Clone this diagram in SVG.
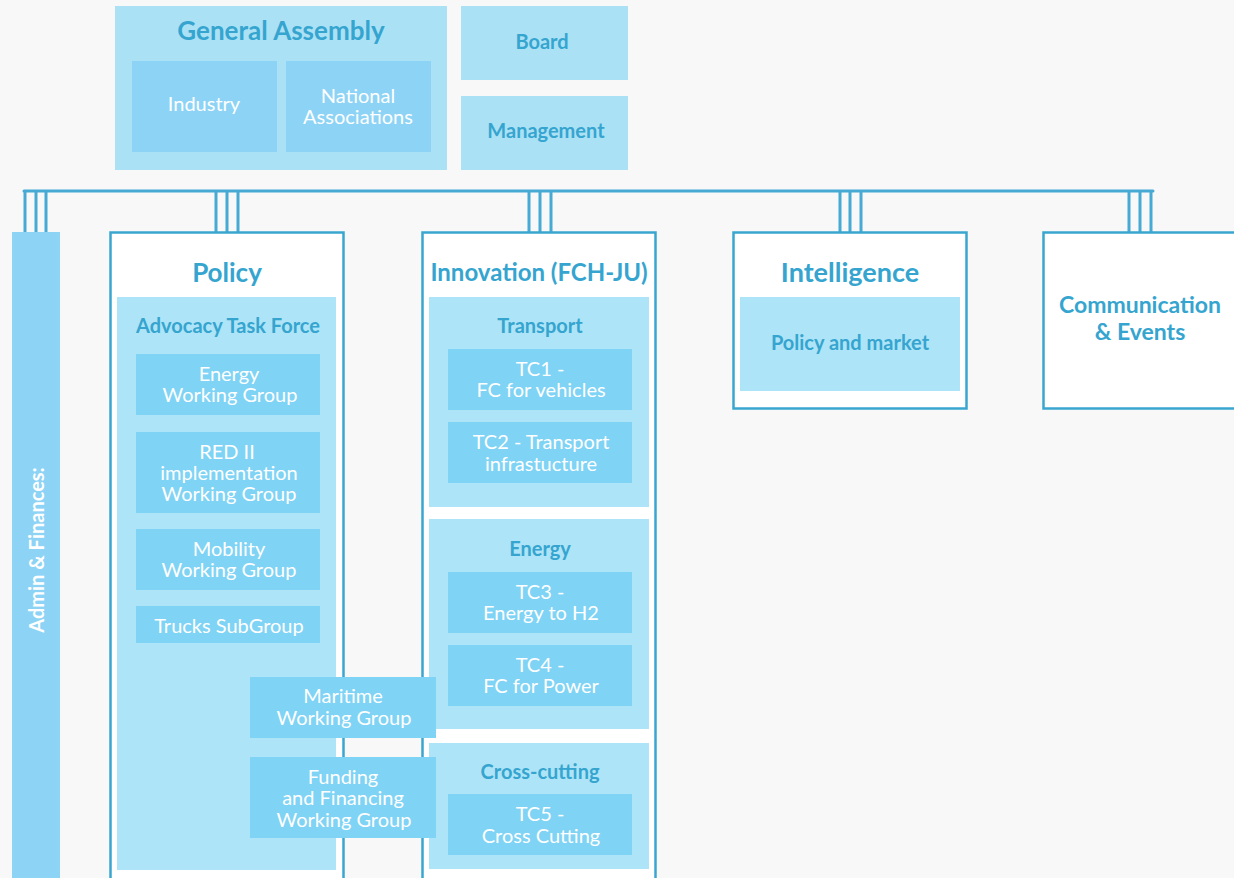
<svg xmlns="http://www.w3.org/2000/svg" width="1234" height="878" viewBox="0 0 1234 878">
<style>
.bg{fill:#f8f8f8}
.ga{fill:#abe1f5}
.sub{fill:#8dd3f5}
.frame{fill:#ffffff;stroke:#3aa6d0;stroke-width:2.5}
.inner{fill:#ade4f7}
.leaf{fill:#7fd3f5}
.h1{font-family:Lato,"Noto Sans",sans-serif;font-weight:bold;fill:#35a5d0;text-anchor:middle}
.h2{font-family:Lato,"Noto Sans",sans-serif;font-weight:bold;fill:#35a5d0;text-anchor:middle;font-size:20px}
.w{font-family:Lato,"Noto Sans",sans-serif;fill:#ffffff;text-anchor:middle;font-size:20px}
.conn{stroke:#46aad4;stroke-width:3;fill:none;stroke-linecap:round}
</style>
<rect class="bg" x="0" y="0" width="1234" height="878"/>

<g id="general-assembly">
<rect class="ga" x="115" y="6" width="332" height="164"/>
<text class="h1" x="281" y="40" font-size="26">General Assembly</text>
<g id="industry"><rect class="sub" x="132" y="61" width="145" height="91"/>
<text class="w" x="204" y="111">Industry</text></g>
<g id="national-associations"><rect class="sub" x="286" y="61" width="145" height="91"/>
<text class="w" x="358" y="103">National</text><text class="w" x="358" y="124">Associations</text></g>
</g>

<g id="board"><rect class="ga" x="461" y="6" width="167" height="74"/>
<text class="h2" x="542" y="49">Board</text></g>
<g id="management"><rect class="ga" x="461" y="96" width="167" height="74"/>
<text class="h2" x="546" y="138">Management</text></g>

<g id="connectors">
<line class="conn" x1="24" y1="191" x2="1153" y2="191"/>
<path class="conn" d="M25 192V240M36 192V240M46 192V240"/>
<path class="conn" d="M216 192V240M227 192V240M238 192V240"/>
<path class="conn" d="M529 192V240M540 192V240M551 192V240"/>
<path class="conn" d="M840 192V240M850 192V240M861 192V240"/>
<path class="conn" d="M1129 192V240M1140 192V240M1151 192V240"/>
</g>

<g id="admin-finances">
<rect class="sub" x="12" y="232" width="48" height="660"/>
<text class="w" font-weight="bold" font-size="21" transform="translate(44 550) rotate(-90)">Admin &amp; Finances:</text>
</g>

<g id="policy">
<rect class="frame" x="110.5" y="232.5" width="233" height="660"/>
<text class="h1" x="227" y="282" font-size="26">Policy</text>
<g id="advocacy-task-force">
<rect class="inner" x="117" y="297" width="219" height="573"/>
<text class="h2" x="228" y="333">Advocacy Task Force</text>
</g>
<g id="energy-wg"><rect class="leaf" x="136" y="354" width="184" height="61"/>
<text class="w" x="229" y="381">Energy</text><text class="w" x="230" y="402">Working Group</text></g>
<g id="red-ii-wg"><rect class="leaf" x="136" y="432" width="184" height="81"/>
<text class="w" x="227" y="459">RED II</text><text class="w" x="229" y="480">implementation</text><text class="w" x="229" y="501">Working Group</text></g>
<g id="mobility-wg"><rect class="leaf" x="136" y="529" width="184" height="61"/>
<text class="w" x="229" y="556">Mobility</text><text class="w" x="229" y="577">Working Group</text></g>
<g id="trucks-subgroup"><rect class="leaf" x="136" y="606" width="184" height="37"/>
<text class="w" x="229" y="633">Trucks SubGroup</text></g>
</g>

<g id="innovation">
<rect class="frame" x="422.5" y="232.5" width="233" height="660"/>
<text class="h1" x="539" y="281" font-size="24">Innovation (FCH-JU)</text>
<g id="transport"><rect class="inner" x="429" y="297" width="220" height="210"/>
<text class="h2" x="540" y="333">Transport</text>
<rect class="leaf" x="448" y="349" width="184" height="61"/>
<text class="w" x="540" y="376">TC1 -</text><text class="w" x="541" y="397">FC for vehicles</text>
<rect class="leaf" x="448" y="422" width="184" height="61"/>
<text class="w" x="541" y="449">TC2 - Transport</text><text class="w" x="541" y="471">infrastucture</text></g>
<g id="energy"><rect class="inner" x="429" y="519" width="220" height="210"/>
<text class="h2" x="540" y="556">Energy</text>
<rect class="leaf" x="448" y="572" width="184" height="61"/>
<text class="w" x="540" y="599">TC3 -</text><text class="w" x="541" y="620">Energy to H2</text>
<rect class="leaf" x="448" y="645" width="184" height="61"/>
<text class="w" x="540" y="672">TC4 -</text><text class="w" x="541" y="693">FC for Power</text></g>
<g id="cross-cutting"><rect class="inner" x="429" y="743" width="220" height="126"/>
<text class="h2" x="540" y="779">Cross-cutting</text>
<rect class="leaf" x="448" y="794" width="184" height="61"/>
<text class="w" x="540" y="821">TC5 -</text><text class="w" x="541" y="843">Cross Cutting</text></g>
</g>

<g id="maritime-wg"><rect class="leaf" x="250" y="677" width="186" height="61"/>
<text class="w" x="343" y="703">Maritime</text><text class="w" x="344" y="725">Working Group</text></g>
<g id="funding-wg"><rect class="leaf" x="250" y="757" width="186" height="81"/>
<text class="w" x="343" y="784">Funding</text><text class="w" x="343" y="805">and Financing</text><text class="w" x="344" y="827">Working Group</text></g>

<g id="intelligence">
<rect class="frame" x="733.5" y="232.5" width="233" height="176"/>
<text class="h1" x="850" y="282" font-size="27">Intelligence</text>
<g id="policy-and-market"><rect class="inner" x="740" y="297" width="220" height="94"/>
<text class="h2" x="850" y="350" font-size="21">Policy and market</text></g>
</g>

<g id="communication-events">
<rect class="frame" x="1043.5" y="232.5" width="220" height="176"/>
<text class="h1" x="1140" y="313" font-size="23">Communication</text>
<text class="h1" x="1140" y="340" font-size="23">&amp; Events</text>
</g>
</svg>
